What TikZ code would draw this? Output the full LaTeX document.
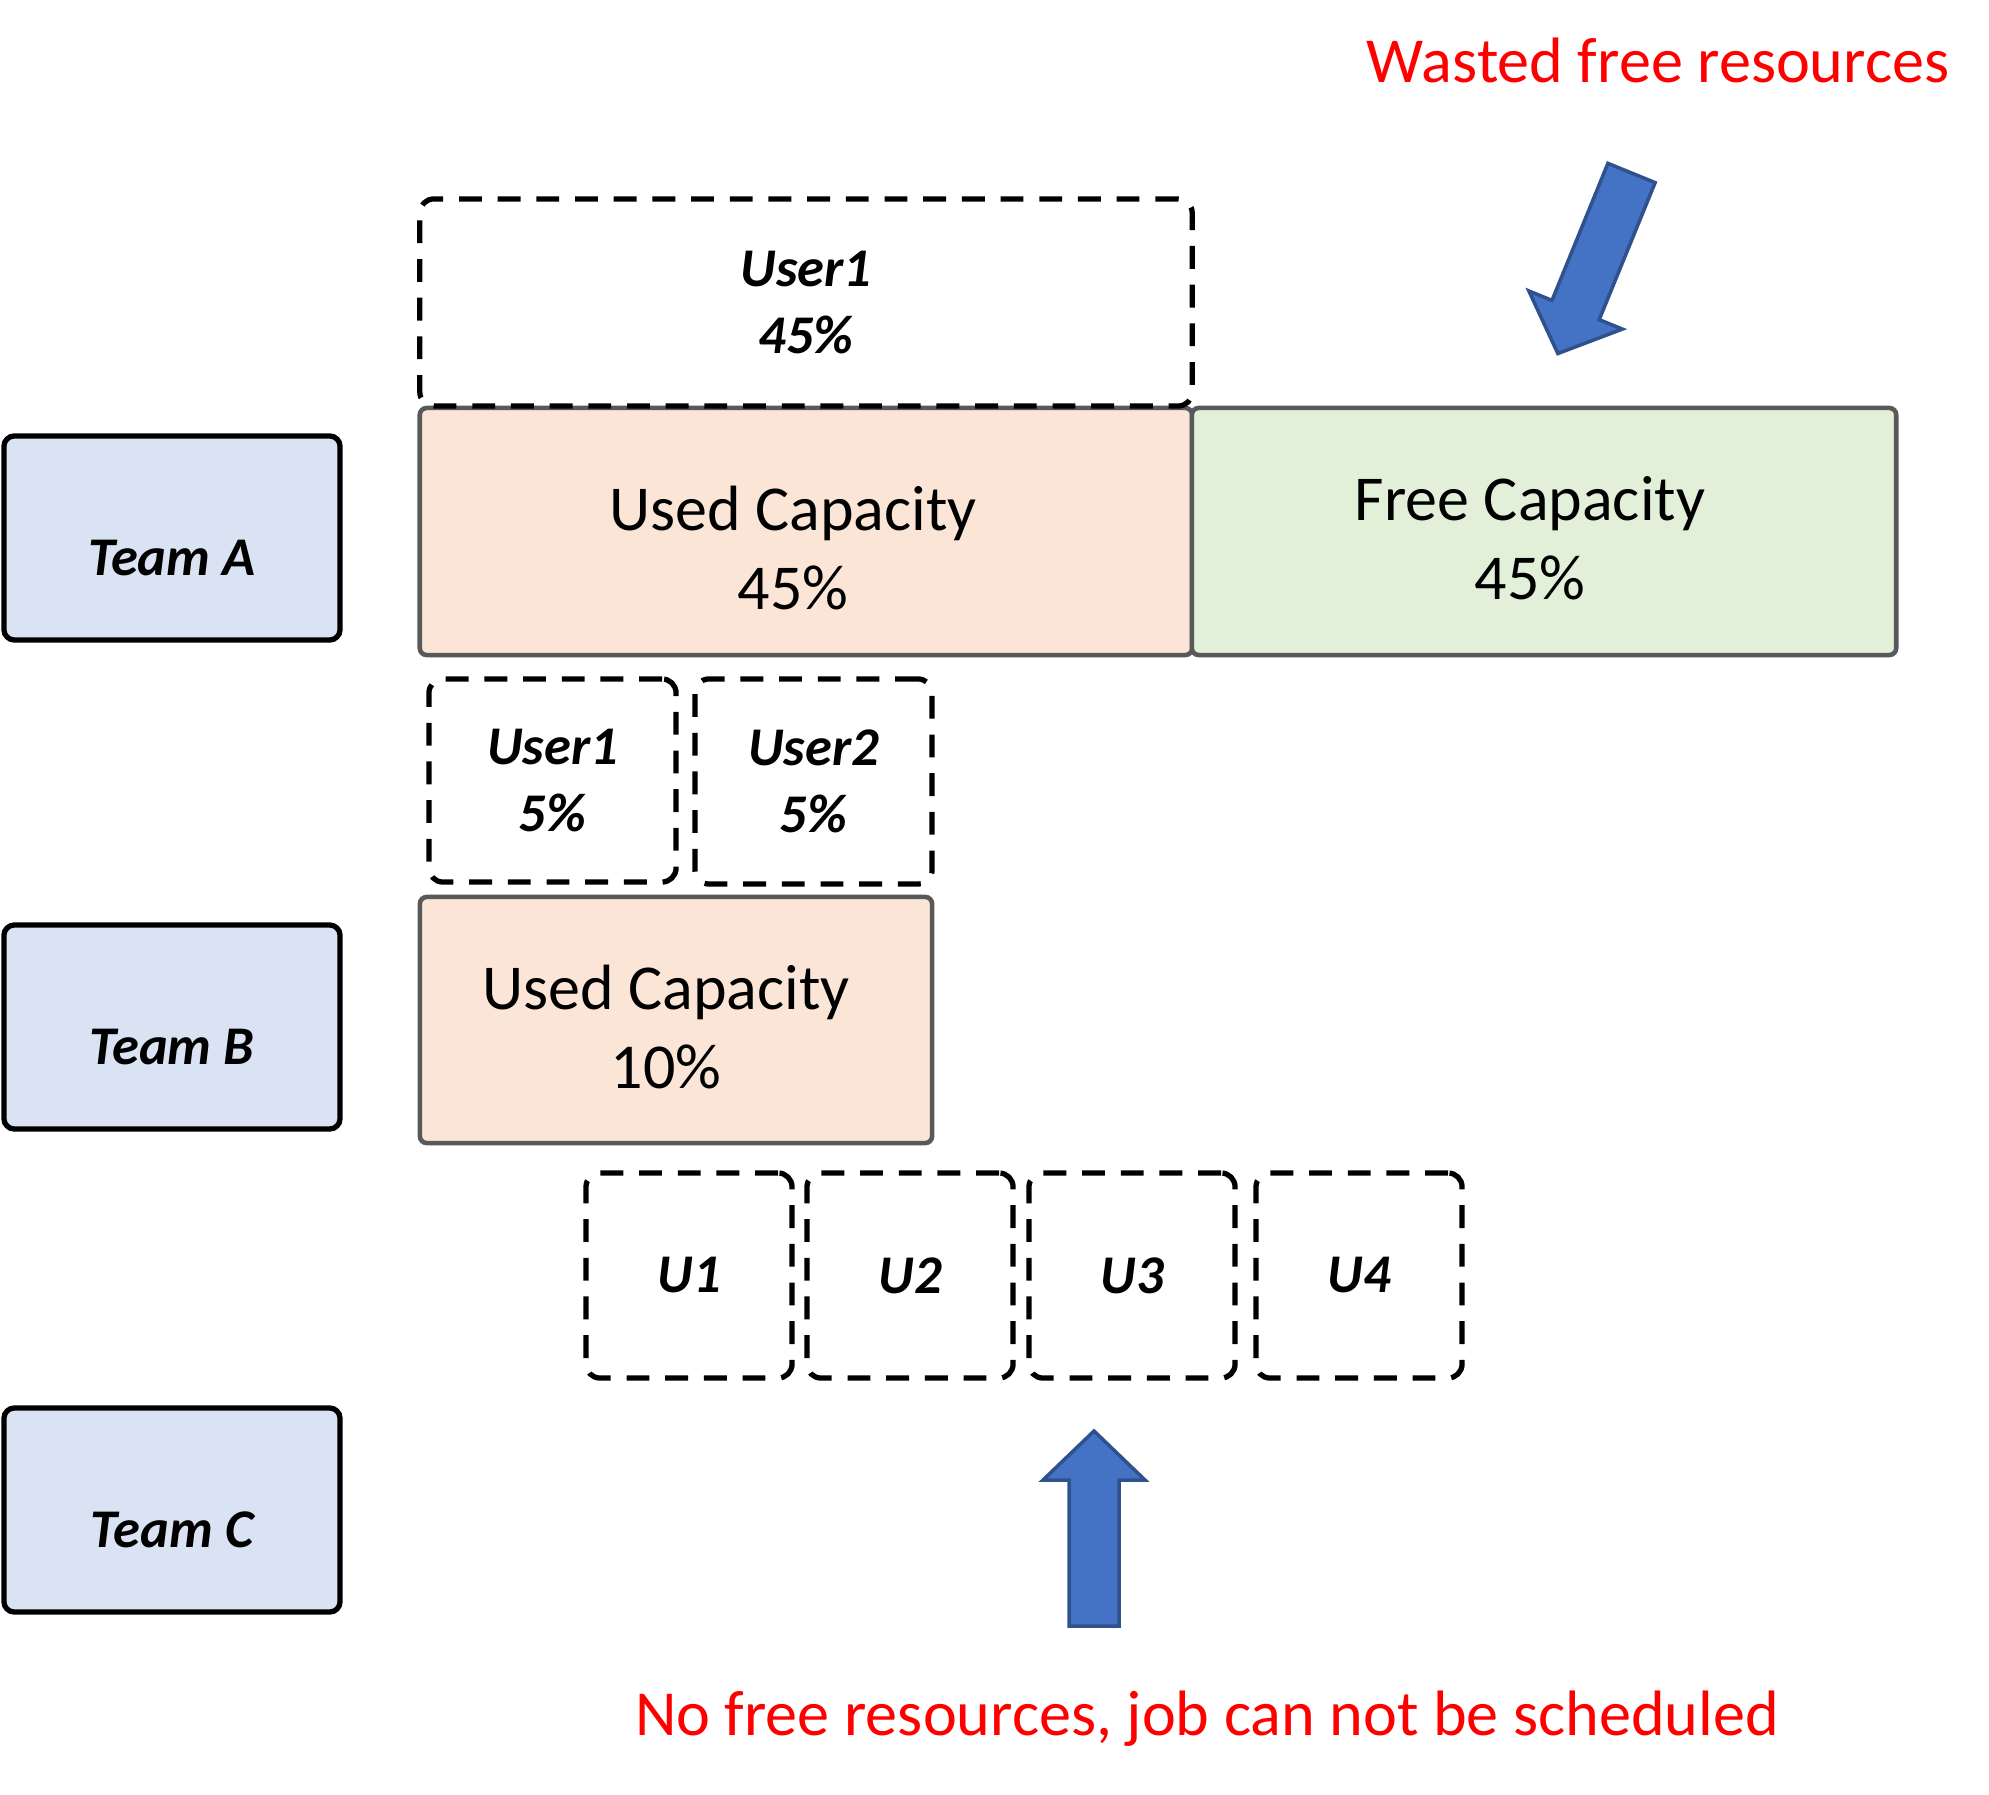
\documentclass[tikz,border=0pt]{standalone}
\usepackage{fontspec}
\setmainfont{Carlito}
\usepackage{tikz}
\usetikzlibrary{positioning}
\definecolor{team-blue}{HTML}{DAE3F3}
\definecolor{used-peach}{HTML}{FBE5D6}
\definecolor{free-green}{HTML}{E2F0D9}
\definecolor{cap-gray}{HTML}{595959}
\definecolor{arrow-blue}{HTML}{4472C4}
\definecolor{arrow-edge}{HTML}{2F528F}

\begin{document}
\begin{tikzpicture}[
    x=0.01cm, y=-0.01cm,
    team/.style={rectangle, draw=black, line width=1.5pt, fill=team-blue, rounded corners=3pt, minimum width=3.36cm, minimum height=2.04cm, text height=0.9cm, text depth=0.15cm, font=\fontsize{15.5}{19}\selectfont\bfseries\itshape},
    capbox/.style={rectangle, draw=cap-gray, line width=1.3pt, rounded corners=2pt, minimum height=2.47cm, align=center, font=\fontsize{18.2}{22.4}\selectfont},
    userbox/.style={rectangle, draw=black, line width=1.5pt, dash pattern=on 6.5pt off 4.5pt, rounded corners=4pt, align=center, font=\fontsize{15.5}{19}\selectfont\bfseries\itshape},
    note/.style={text=red, font=\fontsize{18.25}{22}\selectfont},
    blockarrow/.style={fill=arrow-blue, draw=arrow-edge, line width=1pt, line join=miter}
]
    \useasboundingbox (0,0) rectangle (1989,1795);

    % teams
    \node[team] (teamA) at (172,538) {Team A};
    \node[team] (teamB) at (172,1027) {Team B};
    \node[team] (teamC) at (172,1510) {Team C};

    % team A
    \node[capbox, fill=used-peach, minimum width=7.72cm] (usedA) at (806,531.5) {\rule{0pt}{22pt}Used Capacity\kern0.26cm\\45\%\kern0.26cm};
    \node[capbox, fill=free-green, minimum width=7.04cm] (freeA) at (1544,531.5) {\rule{0pt}{16.5pt}Free Capacity\kern0.28cm\\45\%\kern0.28cm};
    \node[userbox, minimum width=7.72cm, minimum height=2.07cm] (userA) at (806,302.5) {User1\\45\%};

    % team B
    \node[capbox, fill=used-peach, minimum width=5.12cm, minimum height=2.46cm] (usedB) at (676,1020) {\rule{0pt}{16.5pt}Used Capacity\kern0.2cm\\10\%\kern0.2cm};
    \node[userbox, minimum width=2.47cm, minimum height=2.03cm] (userB1) at (552.5,780.5) {User1\\5\%};
    \node[userbox, minimum width=2.37cm, minimum height=2.05cm] (userB2) at (813.5,781.5) {User2\\5\%};

    % team C
    \node[userbox, minimum width=2.06cm, minimum height=2.05cm] (u1) at (689,1275.5) {U1};
    \node[userbox, minimum width=2.06cm, minimum height=2.05cm] (u2) at (910,1275.5) {U2};
    \node[userbox, minimum width=2.06cm, minimum height=2.05cm] (u3) at (1132,1275.5) {U3};
    \node[userbox, minimum width=2.06cm, minimum height=2.05cm] (u4) at (1359,1275.5) {U4};

    % notes
    \node[note] (wasted) at (1658,60) {Wasted free resources};
    \node[note] (noroom) at (1207,1719) {No free resources, job can not be scheduled};

    % block arrows
    \begin{scope}[shift={(1631.5,173)}, rotate=247.8]
        \draw[blockarrow] (0,-25.5) -- (148,-25.5) -- (148,-50.5) -- (195,0) -- (148,50.5) -- (148,25.5) -- (0,25.5) -- cycle;
    \end{scope}
    \begin{scope}[shift={(1094,1626)}, rotate=90]
        \draw[blockarrow] (0,-25) -- (146,-25) -- (146,-51) -- (195,0) -- (146,51) -- (146,25) -- (0,25) -- cycle;
    \end{scope}
\end{tikzpicture}
\end{document}
